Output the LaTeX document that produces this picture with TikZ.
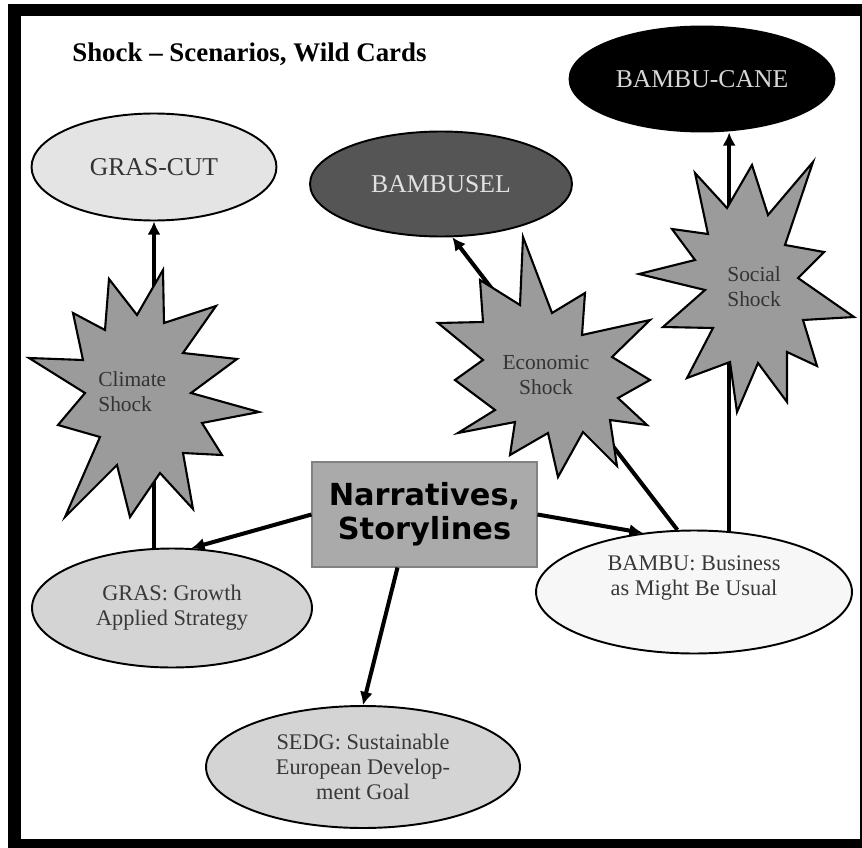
\documentclass[tikz,border=0pt]{standalone}
\usepackage{fontspec}
\setmainfont{Liberation Serif}
\newfontfamily\narrfont{DejaVu Sans}
\usetikzlibrary{calc,shapes.geometric,arrows.meta}
\definecolor{starfill}{RGB}{155,155,155}
\definecolor{boxfill}{RGB}{170,170,170}
\tikzset{
  scen/.style={ % scenario ellipse, two or three lines of text
    draw, ellipse, line width=1.1pt, inner sep=0pt, align=center,
    font=\fontsize{12.7}{14.2}\selectfont, text=black!78
  },
  big/.style={ % scenario ellipse with a single name
    scen, font=\fontsize{14.6}{16}\selectfont
  },
  shock/.style={ % star burst drawn behind a shock label
    draw, line width=1.2pt, fill=starfill, line join=miter
  },
  shocktext/.style={
    inner sep=0pt, font=\fontsize{12.2}{14.2}\selectfont, text=black!80
  },
  conn/.style={line width=2.3pt, ->}
}

\begin{document}
\begin{tikzpicture}[x=0.02cm, y=-0.02cm, >={Latex[length=7.5pt,width=7.5pt]}]
    \useasboundingbox (0,0) rectangle (862,848);
    % frame
    \fill[black] (8,4) rectangle (862,848);
    \fill[white] (21,16) rectangle (860,839);

    \node[anchor=base west, inner sep=0pt, font=\fontsize{15.3}{18}\selectfont\bfseries] (title) at (72,62) {Shock \textendash{} Scenarios, Wild Cards};

    % scenarios
    \node[big, fill={rgb,255:red,228;green,228;blue,228}, minimum width=4.9cm, minimum height=2.14cm, text=black!80] (grascut) at (154,167) {GRAS-CUT};
    \node[big, fill={rgb,255:red,85;green,85;blue,85}, minimum width=5.24cm, minimum height=2.1cm, text={rgb,255:red,225;green,225;blue,225}] (bambusel) at (441,184) {BAMBUSEL};
    \node[big, fill=black, minimum width=5.3cm, minimum height=2.1cm, text={rgb,255:red,215;green,215;blue,215}] (bambucane) at (702,79) {BAMBU-CANE};
    \node[scen, fill={rgb,255:red,212;green,212;blue,212}, minimum width=5.6cm, minimum height=2.38cm] (gras) at (172,608) {GRAS: Growth\\Applied Strategy};
    \node[scen, fill={rgb,255:red,247;green,247;blue,247}, minimum width=6.32cm, minimum height=2.46cm] (bambu) at (694,592) {BAMBU: Business\\as Might Be Usual\\[0.14cm]};
    \node[scen, fill={rgb,255:red,212;green,212;blue,212}, minimum width=6.28cm, minimum height=2.44cm] (sedg) at (363,767) {SEDG: Sustainable\\European Develop-\\ment Goal};

    \node[draw={rgb,255:red,130;green,130;blue,130}, line width=0.6pt, fill=boxfill, minimum width=4.5cm, minimum height=2.1cm, align=center, font=\narrfont\bfseries\fontsize{17.3}{19.3}\selectfont] (narr) at (424.5,514.5) {Narratives,\\Storylines};

    % connectors
    \draw[conn] (narr.west) -- (gras.72);
    \draw[conn] (narr.east) -- (bambu.131);
    \draw[conn] (narr.-117) -- (sedg.north);
    \draw[conn] (gras.north -| grascut.south) -- (grascut.south);
    \draw[conn] (bambu.105) -- (bambusel.-78);
    \draw[conn] (bambu.60) -- (bambu.60 |- bambucane.south);

    % shocks
    \draw[shock] (163,270) -- (164,323) -- (216,306) -- (183,353) -- (237,359) -- (191,393) -- (259,412) -- (202,423) -- (222,455) -- (183,453) -- (193,509) -- (160,473) -- (130,517) -- (117,465) -- (65,517) -- (100,437) -- (58,425) -- (85,393) -- (29,358) -- (83,360) -- (73,313) -- (105,330) -- (109,279) -- (137,315) -- cycle;
    \node[shocktext, anchor=west, align=left] (climate) at (98,392) {Climate\\Shock};

    \draw[shock] (523,237) -- (552,313) -- (585,293) -- (582,335) -- (650,320) -- (612,357) -- (650,380) -- (618,398) -- (647,425) -- (610,420) -- (617,466) -- (583,432) -- (558,477) -- (548,433) -- (510,455) -- (515,422) -- (458,433) -- (495,410) -- (455,380) -- (483,360) -- (438,323) -- (483,322) -- (480,280) -- (520,305) -- cycle;
    \node[shocktext, align=center] (econ) at (546,375) {Economic\\Shock};

    \draw[shock] (813,162) -- (785,245) -- (824,252) -- (798,278) -- (854,317) -- (803,320) -- (817,366) -- (787,352) -- (787,402) -- (758,363) -- (737,412) -- (730,362) -- (687,378) -- (713,328) -- (663,327) -- (705,290) -- (639,274) -- (695,260) -- (672,229) -- (708,234) -- (695,173) -- (727,208) -- (752,165) -- (768,215) -- cycle;
    \node[shocktext, anchor=west, align=left] (social) at (727,287) {Social\\Shock};
\end{tikzpicture}
\end{document}
